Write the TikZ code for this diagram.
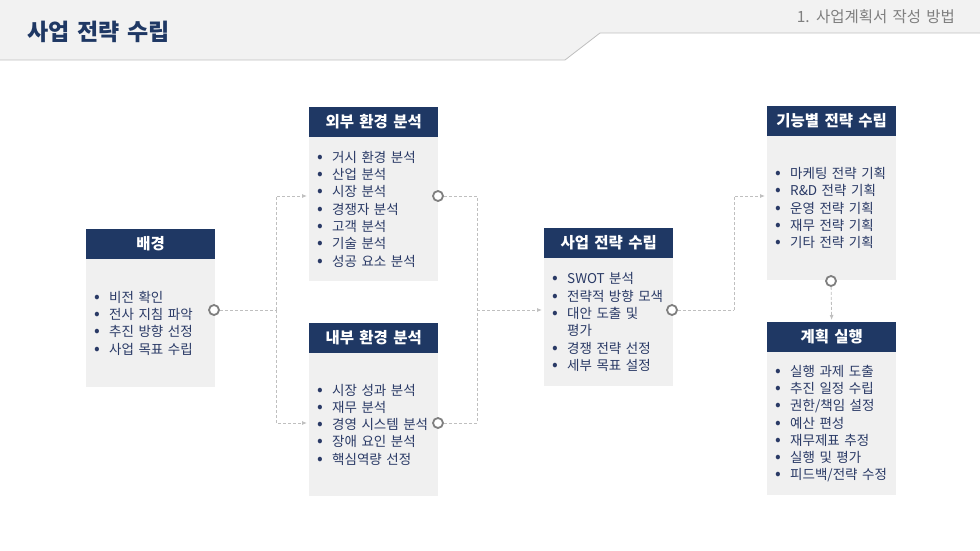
\documentclass[tikz,border=0pt]{standalone}
\usepackage{fontspec}
\setmainfont{Noto Sans CJK KR}[WordSpace=1.5]
\usetikzlibrary{positioning,arrows.meta}
\definecolor{navy}{HTML}{1F3864}
\definecolor{itemblue}{HTML}{2A3A66}
\definecolor{boxgray}{HTML}{F0F0F0}
\definecolor{bandgray}{HTML}{F2F2F2}
\definecolor{linegray}{HTML}{BFBFBF}
\definecolor{ringgray}{HTML}{7F7F7F}
\newcommand{\itm}[1]{\mbox{\makebox[15pt][l]{\scalebox{1.25}{\textbullet}}#1}}
\newcommand{\cont}[1]{\hspace*{15pt}#1}

\begin{document}
\begin{tikzpicture}[x=1pt,y=-1pt,
head/.style = {fill=navy, text=white, minimum width=129pt,
        minimum height=29.5pt, inner sep=0pt, anchor=north west,
        font=\fontsize{15.5}{17}\selectfont\bfseries},
body/.style = {fill=boxgray, text=itemblue, text width=113pt, inner xsep=8pt,
        inner ysep=0pt, align=left, below=0pt of #1,
        font=\fontsize{13.5}{17.3}\selectfont},
ring/.style = {circle, draw=ringgray, line width=1.8pt, fill=white,
        minimum size=10pt, inner sep=0pt},
link/.style = {linegray, dash pattern=on 3pt off 2pt, line width=0.8pt},
arr/.style = {-{Latex[length=5pt,width=4pt]}, shorten >=2pt}]

        \useasboundingbox (0,0) rectangle (980,551);

        % title band
        \fill[bandgray] (0,0) -- (980,0) -- (980,33) -- (600,33) -- (565,60) -- (0,60) -- cycle;
        \draw[linegray, line width=0.8pt] (0,60) -- (565,60) -- (600,33) -- (980,33);
        \node [anchor=west, inner sep=0pt, text=navy, font=\fontsize{23}{25}\selectfont\bfseries] (Title) at (27,32) {사업 전략 수립};
        \node [anchor=east, inner sep=0pt, text=ringgray, font=\fontsize{15.5}{17}\selectfont] (Chapter) at (955,17) {1. 사업계획서 작성 방법};

        % boxes
        \node [head] (BG_H) at (86,229) {배경};
        \node [body=BG_H, minimum height=128pt] (BG_B) {\itm{비전 확인}\\ \itm{전사 지침 파악}\\ \itm{추진 방향 선정}\\ \itm{사업 목표 수립}};

        \node [head] (EXT_H) at (309,107) {외부 환경 분석};
        \node [body=EXT_H, minimum height=144pt] (EXT_B) {\itm{거시 환경 분석}\\ \itm{산업 분석}\\ \itm{시장 분석}\\ \itm{경쟁자 분석}\\ \itm{고객 분석}\\ \itm{기술 분석}\\ \itm{성공 요소 분석}};

        \node [head] (INT_H) at (309,323) {내부 환경 분석};
        \node [body=INT_H, minimum height=143pt] (INT_B) {\itm{시장 성과 분석}\\ \itm{재무 분석}\\ \itm{경영 시스템 분석}\\ \itm{장애 요인 분석}\\ \itm{핵심역량 선정}};

        \node [head] (STR_H) at (544,228) {사업 전략 수립};
        \node [body=STR_H, minimum height=128pt] (STR_B) {\itm{SWOT 분석}\\ \itm{전략적 방향 모색}\\ \itm{대안 도출 및}\\ \cont{평가}\\ \itm{경쟁 전략 선정}\\ \itm{세부 목표 설정}};

        \node [head] (FUN_H) at (767,106) {기능별 전략 수립};
        \node [body=FUN_H, minimum height=144pt] (FUN_B) {\itm{마케팅 전략 기획}\\ \itm{R\&D 전략 기획}\\ \itm{운영 전략 기획}\\ \itm{재무 전략 기획}\\ \itm{기타 전략 기획}};

        \node [head] (PLN_H) at (767,322) {계획 실행};
        \node [body=PLN_H, minimum height=143pt] (PLN_B) {\itm{실행 과제 도출}\\ \itm{추진 일정 수립}\\ \itm{권한/책임 설정}\\ \itm{예산 편성}\\ \itm{재무제표 추정}\\ \itm{실행 및 평가}\\ \itm{피드백/전략 수정}};

        % connectors
        \coordinate (J_L) at (276,310);
        \coordinate (J_M) at (477,310);
        \coordinate (J_R) at (734,310);
        \node [ring] (BG_C) at (214,310) {};
        \node [ring] (EXT_C) at (438,196) {};
        \node [ring] (INT_C) at (438,423) {};
        \node [ring] (STR_C) at (672,310) {};
        \node [ring] (FUN_C) at (831,281) {};

        \draw[link] (BG_C) -- (J_L);
        \draw[link,arr] (J_L) |- (EXT_B.west |- EXT_C);
        \draw[link,arr] (J_L) |- (INT_B.west |- INT_C);
        \draw[link] (EXT_C) -| (J_M);
        \draw[link] (INT_C) -| (J_M);
        \draw[link,arr] (J_M) -- (STR_B.west |- J_M);
        \draw[link] (STR_C) -- (J_R);
        \draw[link,arr] (J_R) |- (FUN_B.west |- EXT_C);
        \draw[link,arr] (FUN_C) -- (PLN_H.north);

\end{tikzpicture}
\end{document}
